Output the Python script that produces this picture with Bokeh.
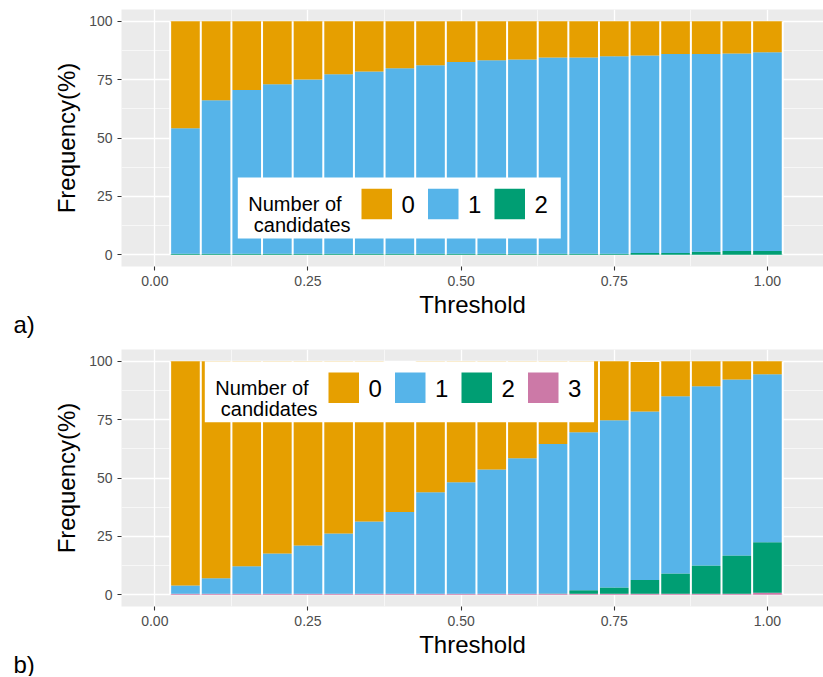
from bokeh.plotting import figure
from bokeh.models import FixedTicker, Title, ColumnDataSource
from bokeh.layouts import column
from bokeh.embed import file_html
from bokeh.resources import INLINE
from bokeh.core.properties import value

# ---------------- data ----------------
thresholds = [0.05, 0.10, 0.15, 0.20, 0.25, 0.30, 0.35, 0.40, 0.45, 0.50,
              0.55, 0.60, 0.65, 0.70, 0.75, 0.80, 0.85, 0.90, 0.95, 1.00]

# panel a) : percentage of cases with 0 / 1 / 2 candidates
a_zero = [45.8, 33.8, 29.5, 27.0, 25.0, 22.7, 21.5, 20.1, 18.9, 17.5,
          16.7, 16.4, 15.5, 15.5, 15.0, 14.7, 14.1, 14.1, 13.8, 13.3]
a_one = [53.7, 65.7, 70.0, 72.5, 74.5, 76.8, 78.0, 79.4, 80.6, 82.0,
         82.8, 83.1, 84.0, 84.0, 84.5, 84.5, 85.1, 84.6, 84.6, 85.1]
a_two = [0.5, 0.5, 0.5, 0.5, 0.5, 0.5, 0.5, 0.5, 0.5, 0.5,
         0.5, 0.5, 0.5, 0.5, 0.5, 0.8, 0.8, 1.3, 1.6, 1.6]

# panel b) : percentage of cases with 0 / 1 / 2 / 3 candidates
b_zero = [96.0, 92.9, 87.8, 82.3, 78.9, 73.8, 68.6, 64.2, 56.1, 51.8,
          46.4, 41.5, 35.5, 30.4, 25.3, 21.1, 15.0, 10.7, 7.8, 5.6]
b_one = [3.5, 6.6, 11.7, 17.2, 20.6, 25.7, 30.9, 34.9, 43.4, 47.7,
         53.1, 58.0, 63.9, 67.6, 71.6, 72.2, 75.9, 76.7, 75.4, 71.9]
b_two = [0.0, 0.0, 0.0, 0.0, 0.0, 0.0, 0.0, 0.0, 0.0, 0.0,
         0.0, 0.0, 0.1, 1.5, 2.6, 5.8, 8.6, 12.1, 16.3, 21.6]
b_three = [0.5, 0.5, 0.5, 0.5, 0.5, 0.5, 0.5, 0.5, 0.5, 0.5,
           0.5, 0.5, 0.5, 0.5, 0.5, 0.5, 0.5, 0.5, 0.5, 0.9]

categories_a = ["0", "1", "2"]
categories_b = ["0", "1", "2", "3"]
palette = {"0": "#E69F00", "1": "#56B4E9", "2": "#009E73", "3": "#CC79A7"}

x_ticks = [0, 0.25, 0.5, 0.75, 1]
x_tick_labels = ["0.00", "0.25", "0.50", "0.75", "1.00"]
x_minor = [0.125, 0.375, 0.625, 0.875]
y_ticks = [0, 25, 50, 75, 100]
y_tick_labels = ["0", "25", "50", "75", "100"]
y_minor = [12.5, 37.5, 62.5, 87.5]

legend_title = ["Number of", "\u00a0candidates"]

FONT = "Liberation Sans"
XR = (-0.0544, 1.0915)
YR = (-5, 105)
FW, FH = 702, 257
BAR_W = 0.05


def make_panel(series, cats, tag, leg_left, leg_top, leg_w,
               border_top, border_bottom):
    p = figure(frame_width=FW, frame_height=FH, x_range=XR, y_range=YR,
               output_backend="svg", toolbar_location=None,
               min_border_left=121, min_border_right=0,
               min_border_top=border_top, min_border_bottom=border_bottom,
               background_fill_color="#EBEBEB", border_fill_color="white",
               outline_line_color=None)

    data = {"x": thresholds}
    for c in cats:
        data["c" + c] = series[c]
    src = ColumnDataSource(data)
    order = list(reversed(cats))
    p.vbar_stack(["c" + c for c in order], x="x", width=BAR_W, source=src,
                 fill_color=[palette[c] for c in order], line_color=None)

    # white gaps between neighbouring bars
    edges = [t - BAR_W / 2 for t in thresholds] + [thresholds[-1] + BAR_W / 2]
    p.segment(x0=edges, x1=edges, y0=[0] * len(edges), y1=[100] * len(edges),
              line_color="white", line_width=2)

    # axes
    p.xaxis.ticker = FixedTicker(ticks=x_ticks, minor_ticks=x_minor)
    p.xgrid.ticker = FixedTicker(ticks=x_ticks, minor_ticks=x_minor)
    p.yaxis.ticker = FixedTicker(ticks=y_ticks, minor_ticks=y_minor)
    p.ygrid.ticker = FixedTicker(ticks=y_ticks, minor_ticks=y_minor)
    p.xaxis.major_label_overrides = dict(zip(x_ticks, x_tick_labels))
    p.yaxis.major_label_overrides = dict(zip(y_ticks, y_tick_labels))
    for ax in (p.xaxis[0], p.yaxis[0]):
        ax.axis_line_color = None
        ax.major_tick_line_color = "#333333"
        ax.major_tick_line_width = 1.1
        ax.major_tick_in = 0
        ax.major_tick_out = 4
        ax.minor_tick_line_color = None
        ax.major_label_text_font = FONT
        ax.major_label_text_font_size = "14px"
        ax.major_label_text_color = "#4D4D4D"
        ax.axis_label_text_font = FONT
        ax.axis_label_text_font_size = "24px"
        ax.axis_label_text_font_style = "normal"
        ax.axis_label_text_color = "black"
        ax.major_label_standoff = 5
    p.xaxis.axis_label = "Threshold"
    p.yaxis.axis_label = "Frequency(%)"
    p.xaxis.axis_label_standoff = 2
    p.yaxis.axis_label_standoff = 6
    for g in (p.xgrid[0], p.ygrid[0]):
        g.grid_line_color = "white"
        g.grid_line_width = 1.3
        g.minor_grid_line_color = "white"
        g.minor_grid_line_width = 0.6

    # legend (drawn inside the panel, positioned in pixels from frame corner)
    def fx(px):
        return XR[0] + px / FW * (XR[1] - XR[0])

    def fy(py):
        return YR[1] - py / FH * (YR[1] - YR[0])

    p.quad(left=[fx(leg_left)], right=[fx(leg_left + leg_w)],
           top=[fy(leg_top)], bottom=[fy(leg_top + 61)],
           fill_color="white", line_color=None)
    p.text(x=[fx(leg_left + 10.5)] * 2,
           y=[fy(leg_top + 26.5), fy(leg_top + 47.5)],
           text=legend_title, text_font=value(FONT), text_font_size="20px",
           text_baseline="alphabetic", text_align="left", text_color="black")
    for i, c in enumerate(cats):
        kl = leg_left + 123.7 + i * 66.5
        p.quad(left=[fx(kl)], right=[fx(kl + 30.5)],
               top=[fy(leg_top + 11.3)], bottom=[fy(leg_top + 41.8)],
               fill_color=palette[c], line_color=None)
        p.text(x=[fx(kl + 40)], y=[fy(leg_top + 27)], text=[c],
               text_font=value(FONT), text_font_size="24px",
               text_baseline="middle", text_align="left", text_color="black")

    # panel tag ("a)" / "b)") under the axis title, at the far left
    p.add_layout(Title(text=tag, align="left", offset=-108,
                       vertical_align="top", standoff=-20,
                       text_font=FONT, text_font_size="24px",
                       text_font_style="normal", text_color="black"),
                 "below")
    return p


pa = make_panel({"0": a_zero, "1": a_one, "2": a_two}, categories_a, "a)",
                116.3, 168, 323, 9, 82)
pb = make_panel({"0": b_zero, "1": b_one, "2": b_two, "3": b_three},
                categories_b, "b)", 83.3, 11.7, 389.3, 1, 70)

layout = column(pa, pb, spacing=0)
open("out.html", "w").write(file_html(layout, INLINE))
